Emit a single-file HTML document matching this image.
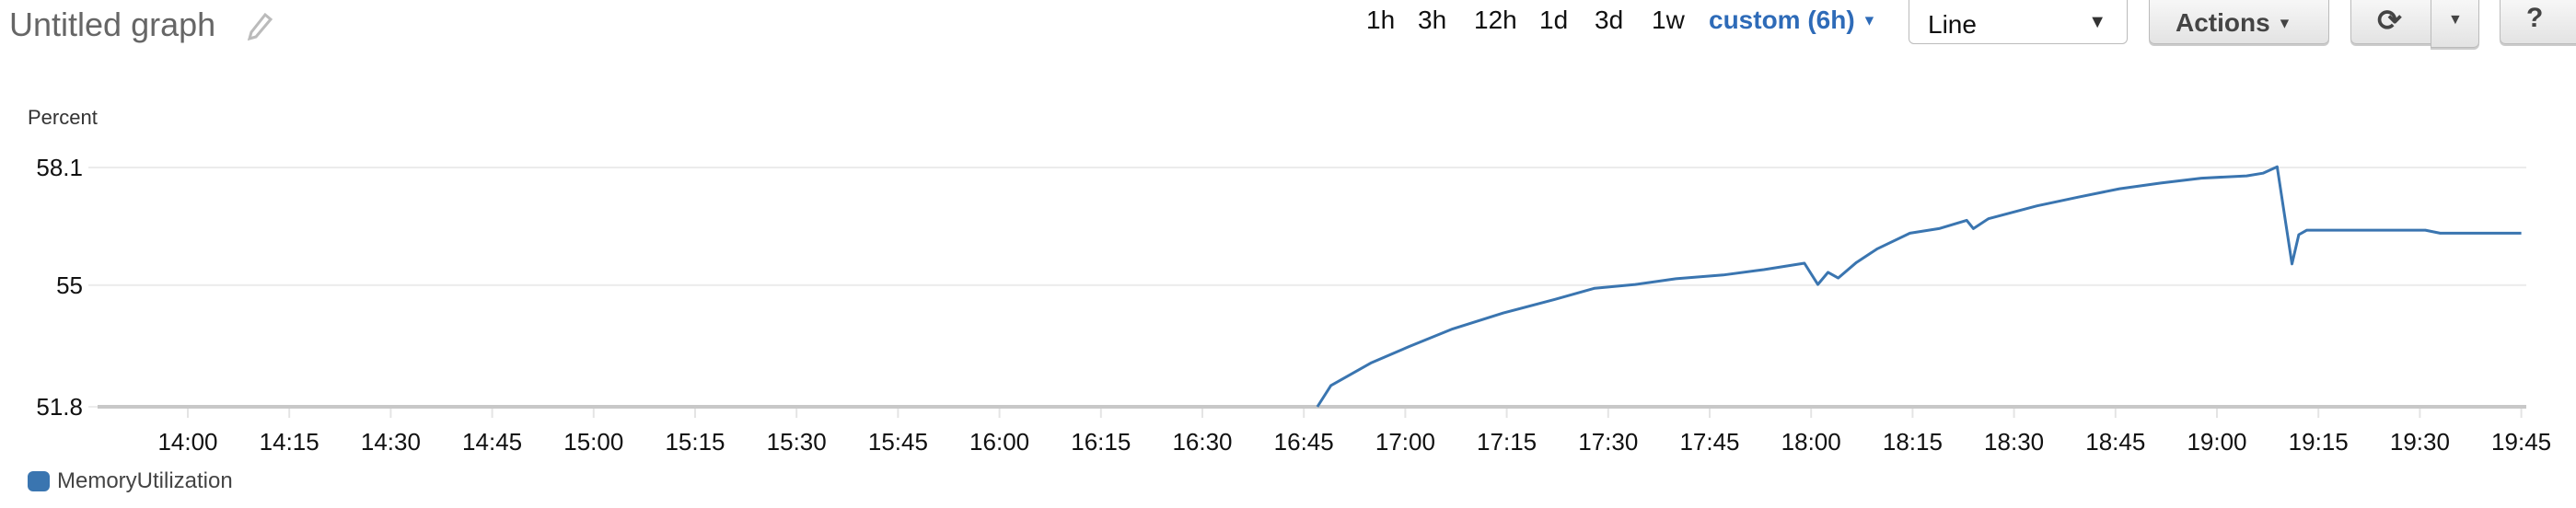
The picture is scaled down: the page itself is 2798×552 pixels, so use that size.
<!DOCTYPE html>
<html><head><meta charset="utf-8">
<style>
html,body{margin:0;padding:0;background:#fff;width:2798px;height:552px;overflow:hidden;font-family:"Liberation Sans",Arial,sans-serif}
.abs{position:absolute}
.rng{position:absolute;top:6px;font-size:28px;color:#111}
.btn{position:absolute;top:-4px;height:52px;border:1px solid #bbb;border-radius:0 0 6px 6px;background:linear-gradient(#f8f8f8,#e3e3e3);box-shadow:0 2px 0 #ccc;box-sizing:border-box}
</style></head><body>
<div class="abs" style="left:10px;top:6px;font-size:36px;color:#666">Untitled graph</div>
<svg class="abs" style="left:268px;top:14px" width="28" height="30" viewBox="0 0 28 30"><path d="M20 2 L26 7 L10 26 L3 28 L5 21 Z" fill="none" stroke="#bbb" stroke-width="3"/></svg>
<div class="rng" style="left:1484px">1h</div>
<div class="rng" style="left:1540px">3h</div>
<div class="rng" style="left:1601px">12h</div>
<div class="rng" style="left:1672px">1d</div>
<div class="rng" style="left:1732px">3d</div>
<div class="rng" style="left:1794px">1w</div>
<div class="rng" style="left:1856px;color:#2e6bb8;font-weight:bold">custom (6h) <span style="font-size:16px;vertical-align:middle">▼</span></div>
<div class="abs" style="left:2073px;top:-4px;width:238px;height:52px;border:1px solid #bbb;border-radius:0 0 6px 6px;box-sizing:border-box;background:#fff">
<span style="position:absolute;left:20px;top:14px;font-size:28px;color:#111">Line</span><span style="position:absolute;right:22px;top:16px;font-size:20px;color:#333">▼</span></div>
<div class="btn" style="left:2334px;width:196px"><span style="position:absolute;left:28px;top:12px;font-size:28px;font-weight:bold;color:#444">Actions <span style="font-size:16px;vertical-align:middle">▼</span></span></div>
<div class="btn" style="left:2553px;width:88px;border-radius:0 0 0 6px"><span style="position:absolute;left:28px;top:6px;font-size:32px;font-weight:bold;color:#444">⟳</span></div>
<div class="btn" style="left:2640px;width:53px;height:56px;border-radius:0 0 6px 0"><span style="position:absolute;left:18px;top:16px;font-size:16px;color:#444">▼</span></div>
<div class="btn" style="left:2715px;width:90px"><span style="position:absolute;left:28px;top:6px;font-size:30px;font-weight:bold;color:#444">?</span></div>
<div class="abs" style="left:30px;top:115px;font-size:22px;color:#333">Percent</div>
<svg id="chart" class="abs" style="left:0;top:0" width="2798" height="552"></svg>
<div class="abs" style="left:30px;top:511px;height:24px">
<div style="position:absolute;left:0;top:1px;width:24px;height:22px;border-radius:6px;background:#3a75b0"></div>
<div style="position:absolute;left:32px;top:-2px;font-size:24px;color:#444;white-space:nowrap">MemoryUtilization</div></div>
<script>
const yTicks=[58.1,55,51.8];
const xTickLabels=["14:00","14:15","14:30","14:45","15:00","15:15","15:30","15:45","16:00","16:15","16:30","16:45","17:00","17:15","17:30","17:45","18:00","18:15","18:30","18:45","19:00","19:15","19:30","19:45"];
const minutes=[167,169,175,180.5,187,194.5,202,208,214,220,227,233,239,241,242.5,244,246.7,249.8,254.6,258.9,263,264,266.2,273.4,279.5,285.6,291.7,297.7,304.4,306.8,308.9,311.1,312.1,313.3,330.8,333,345];
const values=[51.8,52.36,52.96,53.38,53.85,54.27,54.62,54.92,55.02,55.17,55.27,55.41,55.58,55.02,55.34,55.19,55.6,55.96,56.37,56.49,56.71,56.49,56.75,57.09,57.32,57.54,57.69,57.82,57.88,57.95,58.12,55.56,56.33,56.45,56.45,56.37,56.37];
const NS="http://www.w3.org/2000/svg";
const svg=document.getElementById('chart');
const X0=204,PX15=110.2,YT=182,YB=442,VMAX=58.1,VMIN=51.8;
function xs(m){return X0+m/15*PX15;}
function ys(v){return YT+(VMAX-v)/(VMAX-VMIN)*(YB-YT);}
function mk(t,a){const e=document.createElementNS(NS,t);for(const k in a)e.setAttribute(k,a[k]);svg.appendChild(e);return e;}
yTicks.forEach((v,i)=>{
  const y=ys(v);
  if(i<yTicks.length-1){const g=mk('line',{x1:96,x2:2744,y1:y,y2:y,stroke:'#ececec','stroke-width':2});
  
  }
  const t=mk('text',{x:90,y:y+9,'text-anchor':'end','font-size':26,fill:'#111'});
  t.textContent=String(v);
  
  
});
const ax=mk('line',{x1:96,x2:106,y1:YB,y2:YB,stroke:'#ececec','stroke-width':2});


const axl=mk('line',{x1:106,x2:2744,y1:YB,y2:YB,stroke:'#c8c8c8','stroke-width':4});


xTickLabels.forEach((l,i)=>{
  const x=xs(i*15);
  const tk=mk('line',{x1:x,x2:x,y1:YB+2,y2:YB+12,stroke:'#e4e4e4','stroke-width':2});
  
  
  const t=mk('text',{x:x,y:489,'text-anchor':'middle','font-size':26,fill:'#111'});
  t.textContent=l;
  
  
});
const pts=minutes.map((m,i)=>xs(m).toFixed(1)+','+ys(values[i]).toFixed(1)).join(' ');
const pl=mk('polyline',{points:pts,fill:'none',stroke:'#3a75b0','stroke-width':3,'stroke-linejoin':'round'});


</script>
</body></html>
